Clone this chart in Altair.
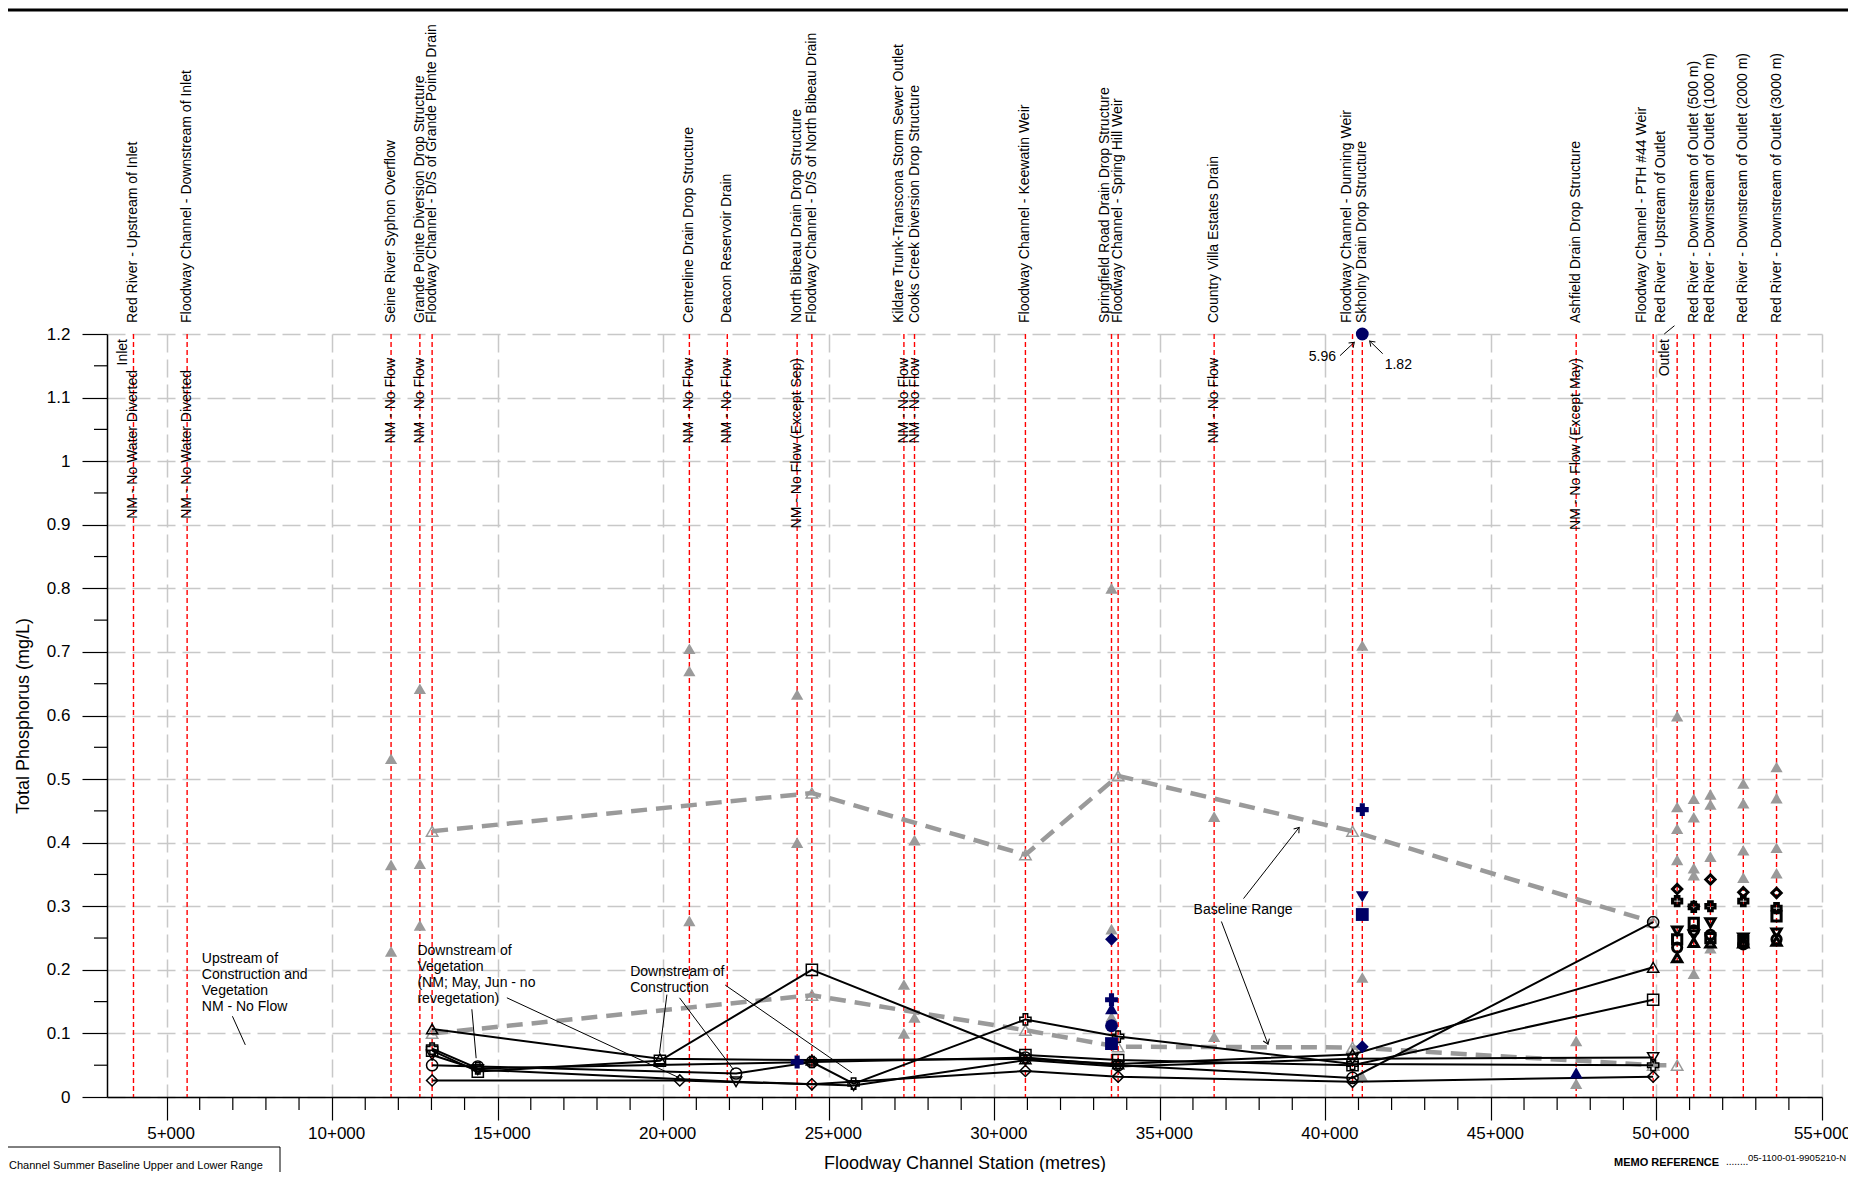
import altair as alt
import pandas as pd

W, H = 1715, 763
X_DOMAIN = [3200, 55000]
Y_DOMAIN = [0, 1.2]
FONT = "Liberation Sans"

# ---------------- data ----------------
SITE_NAMES = [
    "Red River - Upstream of Inlet",
    "Floodway Channel - Downstream of Inlet",
    "Seine River Syphon Overflow",
    "Grande Pointe Diversion Drop Structure",
    "Floodway Channel - D/S of Grande Pointe Drain",
    "Centreline Drain Drop Structure",
    "Deacon Reservoir Drain",
    "North Bibeau Drain Drop Structure",
    "Floodway Channel - D/S of North Bibeau Drain",
    "Kildare Trunk-Transcona Storm Sewer Outlet",
    "Cooks Creek Diversion Drop Structure",
    "Floodway Channel - Keewatin Weir",
    "Springfield Road Drain Drop Structure",
    "Floodway Channel - Spring Hill Weir",
    "Country Villa Estates Drain",
    "Floodway Channel - Dunning Weir",
    "Skholny Drain Drop Structure",
    "Ashfield Drain Drop Structure",
    "Floodway Channel - PTH #44 Weir",
    "Red River - Upstream of Outlet",
    "Red River - Downstream of Outlet (500 m)",
    "Red River - Downstream of Outlet (1000 m)",
    "Red River - Downstream of Outlet (2000 m)",
    "Red River - Downstream of Outlet (3000 m)",
]
SITE_STATIONS = [4000, 5620, 11780, 12650, 13020, 20790, 21935, 24045, 24490,
                 27270, 27590, 30940, 33540, 33740, 36640, 40820, 41115, 47575,
                 49900, 50625, 51127, 51630, 52623, 53627]

NM_STATIONS = [11780, 12650, 20790, 21935, 24045, 27270, 27590, 36640, 47575]
NM_NOTES = ["NM - No Flow", "NM - No Flow", "NM - No Flow", "NM - No Flow",
            "NM - No Flow (Except Sep)", "NM - No Flow", "NM - No Flow",
            "NM - No Flow", "NM - No Flow (Except May)"]
NM_INLET_STATIONS = [4000, 5620]
NM_INLET_NOTES = ["NM - No Water Diverted", "NM - No Water Diverted"]

# historical (grey filled triangles)
HIST_ST = [11780, 11780, 11780, 12650, 12650, 12650, 20790, 20790, 20790,
           24045, 24045, 27270, 27270, 27590, 27590, 33540, 33540, 33540,
           36640, 36640, 41115, 41115, 41115, 47575, 47575,
           50625, 50625, 50625, 50625, 51127, 51127, 51127, 51127, 51127,
           51630, 51630, 51630, 51630, 52623, 52623, 52623, 52623,
           53627, 53627, 53627, 53627]
HIST_TP = [0.532, 0.365, 0.229, 0.642, 0.367, 0.270, 0.705, 0.670, 0.277,
           0.633, 0.400, 0.177, 0.100, 0.404, 0.125, 0.800, 0.264, 0.126,
           0.441, 0.095, 0.710, 0.188, 0.032, 0.088, 0.021,
           0.599, 0.456, 0.422, 0.373, 0.469, 0.440, 0.360, 0.349, 0.194,
           0.476, 0.460, 0.378, 0.234, 0.493, 0.462, 0.388, 0.345,
           0.519, 0.470, 0.392, 0.352]

# baseline range (grey dashed)
UPPER_ST = [13020, 24490, 30940, 33740, 40820, 49900]
UPPER_TP = [0.418, 0.478, 0.381, 0.505, 0.418, 0.275]
LOWER_ST = [13020, 24490, 30940, 33740, 40820, 49900, 50625]
LOWER_TP = [0.100, 0.160, 0.105, 0.079, 0.078, 0.050, 0.050]

# floodway channel series (black lines, open markers)
TRI_UP_ST = [13020, 19900, 24490, 30940, 33740, 40820, 49900]
TRI_UP_TP = [0.107, 0.060, 0.058, 0.060, 0.052, 0.067, 0.204]
SQUARE_ST = [13020, 14400, 19900, 24490, 30940, 33740, 40820, 49900]
SQUARE_TP = [0.073, 0.040, 0.057, 0.200, 0.066, 0.058, 0.050, 0.153]
CIRCLE_ST = [13020, 14400, 22200, 24490, 30940, 33740, 40820, 49900]
CIRCLE_TP = [0.050, 0.048, 0.037, 0.055, 0.062, 0.050, 0.030, 0.275]
DIAMOND_ST = [13020, 20500, 24490, 30940, 33740, 40820, 49900]
DIAMOND_TP = [0.026, 0.026, 0.020, 0.041, 0.032, 0.024, 0.032]
CROSS_ST = [13020, 14400, 24490, 25750, 30940, 33740, 40820, 49900]
CROSS_TP = [0.076, 0.045, 0.055, 0.021, 0.122, 0.095, 0.052, 0.050]
TRI_DOWN_ST = [13020, 14400, 22200, 25750, 30940, 33740, 40820, 49900]
TRI_DOWN_TP = [0.066, 0.043, 0.024, 0.018, 0.058, 0.048, 0.060, 0.062]

# tributaries (navy filled markers)
NAVY_ST = [24045, 33540, 33540, 33540, 33540, 33540, 41115, 41115, 41115, 41115, 41115, 47575]
NAVY_TP = [0.055, 0.248, 0.153, 0.139, 0.112, 0.084, 1.2, 0.452, 0.315, 0.287, 0.079, 0.038]
NAVY_SHAPE = ["cross", "diamond", "cross", "triangle-up", "circle", "square",
              "circle", "cross", "triangle-down", "square", "diamond", "triangle-up"]

# Red River near outlet (bold black markers)
OUT_ST = [50625] * 6 + [51127] * 6 + [51630] * 6 + [52623] * 6 + [53627] * 6
OUT_SHAPE = ["diamond", "cross", "triangle-down", "square", "circle", "triangle-up"] * 5
OUT_TP = [0.327, 0.308, 0.261, 0.248, 0.235, 0.219,
          0.300, 0.299, 0.255, 0.274, 0.262, 0.243,
          0.342, 0.300, 0.274, 0.250, 0.255, 0.242,
          0.322, 0.308, 0.250, 0.245, 0.240, 0.242,
          0.321, 0.297, 0.258, 0.284, 0.248, 0.245]

# annotations
NOTE_TEXT = ["Upstream of\nConstruction and\nVegetation\nNM - No Flow",
             "Downstream of\nVegetation\n(NM; May, Jun - no\nrevegetation)",
             "Downstream of\nConstruction"]
NOTE_ST = [6063, 12577, 19003]
NOTE_TP = [0.228, 0.241, 0.207]

LEADER_ST = [6988, 14220, 15278, 20111, 20492, 21873, 37527, 36859, 40444, 41731, 50235]
LEADER_TP = [0.127, 0.138, 0.156, 0.161, 0.156, 0.176, 0.312, 0.276, 1.166, 1.169, 1.200]
LEADER_ST2 = [7378, 14350, 20492, 19888, 22124, 25701, 39208, 38267, 40873, 41338, 50544]
LEADER_TP2 = [0.082, 0.061, 0.030, 0.069, 0.043, 0.038, 0.424, 0.083, 1.187, 1.189, 1.213]

ARROW_ST = [39208, 38267, 40873, 41338]
ARROW_TP = [0.424, 0.083, 1.187, 1.189]
ARROW_ANGLE = [38, 159, 47, 314]

# ---------------- scales / axes ----------------
XS = alt.Scale(domain=X_DOMAIN, nice=False, zero=False)
YS = alt.Scale(domain=Y_DOMAIN, nice=False)

XAXIS = alt.Axis(
    values=list(range(5000, 55001, 5000)),
    labelExpr="(datum.value/1000) + '+000'",
    tickSize=23, tickColor="black", tickWidth=1.2,
    domainColor="black", domainWidth=1.5,
    grid=True, gridColor="#c8c8c8", gridDash=[18, 7], gridWidth=1.5,
    labelFont=FONT, labelFontSize=17, labelColor="black", labelPadding=5,
    labelOffset={"condition": {"test": "datum.value >= 55000", "value": 0}, "value": 4},
    labelFlush=False, labelOverlap=False,
    title="Floodway Channel Station (metres)", titleFont=FONT, titleFontSize=18,
    titleFontWeight="normal", titleColor="black", titlePadding=13,
)
YAXIS = alt.Axis(
    values=[round(i / 10, 1) for i in range(13)],
    format=".1~f",
    tickSize=25, tickColor="black", tickWidth=1.2,
    domainColor="black", domainWidth=1.5,
    grid=True, gridColor="#c8c8c8", gridDash=[18, 7], gridWidth=1.5,
    labelFont=FONT, labelFontSize=17, labelColor="black", labelPadding=12,
    labelFlush=False, labelOverlap=False,
    title="Total Phosphorus (mg/L)", titleFont=FONT, titleFontSize=18,
    titleFontWeight="normal", titleColor="black", titlePadding=14,
)
X = alt.X("station:Q", scale=XS, axis=XAXIS)
Y = alt.Y("tp:Q", scale=YS, axis=YAXIS)
X2 = alt.X2("station2:Q")
Y2 = alt.Y2("tp2:Q")

# ---------------- tables ----------------
sites = pd.DataFrame({"name": SITE_NAMES, "station": SITE_STATIONS,
                      "tp": [1.2] * len(SITE_STATIONS), "tp2": [0.0] * len(SITE_STATIONS)})
nm = pd.DataFrame({"note": NM_NOTES, "station": NM_STATIONS, "tp": [1.2] * len(NM_STATIONS)})
nm_in = pd.DataFrame({"note": NM_INLET_NOTES, "station": NM_INLET_STATIONS,
                      "tp": [1.2] * len(NM_INLET_STATIONS)})
hist = pd.DataFrame({"station": HIST_ST, "tp": HIST_TP})
base = pd.concat([
    pd.DataFrame({"band": "upper", "station": UPPER_ST, "tp": UPPER_TP}),
    pd.DataFrame({"band": "lower", "station": LOWER_ST, "tp": LOWER_TP}),
])
series_parts = []
for shp, st, tp in [("triangle-up", TRI_UP_ST, TRI_UP_TP), ("square", SQUARE_ST, SQUARE_TP),
                    ("circle", CIRCLE_ST, CIRCLE_TP), ("diamond", DIAMOND_ST, DIAMOND_TP),
                    ("cross", CROSS_ST, CROSS_TP), ("triangle-down", TRI_DOWN_ST, TRI_DOWN_TP)]:
    series_parts.append(pd.DataFrame({"shape": shp, "station": st, "tp": tp}))
chan = pd.concat(series_parts)
navy = pd.DataFrame({"station": NAVY_ST, "tp": NAVY_TP, "shape": NAVY_SHAPE})
outlet = pd.DataFrame({"station": OUT_ST, "tp": OUT_TP, "shape": OUT_SHAPE})
notes = pd.DataFrame({"text": NOTE_TEXT, "station": NOTE_ST, "tp": NOTE_TP})
leaders = pd.DataFrame({"station": LEADER_ST, "tp": LEADER_TP,
                        "station2": LEADER_ST2, "tp2": LEADER_TP2})
arrows = pd.DataFrame({"station": ARROW_ST, "tp": ARROW_TP, "ang": ARROW_ANGLE})
minor_x = pd.DataFrame({"station": [s for s in range(6000, 55000, 1000) if s % 5000]})
minor_y = pd.DataFrame({"tp": [round(0.05 + 0.1 * i, 2) for i in range(12)]})
one = pd.DataFrame({"k": [0]})

layers = []
# red dashed site lines (carry axes)
layers.append(alt.Chart(sites).mark_rule(color="#ff0000", strokeDash=[5, 3], strokeWidth=1.4)
              .encode(x=X, y=Y, y2=Y2))
# minor ticks
layers.append(alt.Chart(minor_x).mark_rule(color="black", strokeWidth=1.2)
              .encode(x=X, y=alt.value(H), y2=alt.value(H + 13)))
layers.append(alt.Chart(minor_y).mark_rule(color="black", strokeWidth=1.2)
              .encode(y=Y, x=alt.value(0), x2=alt.value(-13)))
# historical grey triangles
layers.append(alt.Chart(hist).mark_point(shape="triangle-up", filled=True, color="#9a9a9a",
                                         size=150, opacity=1).encode(x=X, y=Y))
# baseline range
layers.append(alt.Chart(base).mark_line(color="#9a9a9a", strokeWidth=4.5, strokeDash=[16, 9])
              .encode(x=X, y=Y, detail="band:N", order="station:Q"))
layers.append(alt.Chart(base).mark_point(shape="triangle-up", filled=False, color="#9a9a9a",
                                         strokeWidth=1.5, size=130, opacity=1).encode(x=X, y=Y))
# channel series
layers.append(alt.Chart(chan).mark_line(color="black", strokeWidth=2)
              .encode(x=X, y=Y, detail="shape:N", order="station:Q"))
layers.append(alt.Chart(chan).mark_point(filled=False, color="black", strokeWidth=1.5,
                                         size=125, opacity=1)
              .encode(x=X, y=Y, shape=alt.Shape("shape:N", scale=None)))
# tributaries
layers.append(alt.Chart(navy).mark_point(filled=True, color="#000066", size=165, opacity=1)
              .encode(x=X, y=Y, shape=alt.Shape("shape:N", scale=None)))
# red river near outlet
layers.append(alt.Chart(outlet).mark_point(filled=False, color="black", strokeWidth=3,
                                           size=85, opacity=1)
              .encode(x=X, y=Y, shape=alt.Shape("shape:N", scale=None)))

# site labels
NUDGE = {"Floodway Channel - Dunning Weir": -6, "Kildare Trunk-Transcona Storm Sewer Outlet": -5,
         "Springfield Road Drain Drop Structure": -7, "Floodway Channel - PTH #44 Weir": -11,
         "Red River - Upstream of Outlet": -16}
plain = [n for n in SITE_NAMES if n not in NUDGE]
layers.append(alt.Chart(sites).transform_filter(alt.FieldOneOfPredicate(field="name", oneOf=plain))
              .mark_text(angle=270, align="left", baseline="middle", dx=11, fontSize=14,
                         font=FONT, color="black")
              .encode(x=X, y=Y, text="name:N"))
for nm_name, off in NUDGE.items():
    layers.append(alt.Chart(sites).transform_filter(alt.FieldEqualPredicate(field="name", equal=nm_name))
                  .mark_text(angle=270, align="left", baseline="middle", dx=11, dy=off,
                             fontSize=14, font=FONT, color="black")
                  .encode(x=X, y=Y, text="name:N"))
# NM notes
layers.append(alt.Chart(nm).mark_text(angle=270, align="right", baseline="middle", dx=-24,
                                      fontSize=14, font=FONT, color="black")
              .encode(x=X, y=Y, text="note:N"))
layers.append(alt.Chart(nm_in).mark_text(angle=270, align="right", baseline="middle", dx=-36,
                                         fontSize=14, font=FONT, color="black")
              .encode(x=X, y=Y, text="note:N"))
# Inlet / Outlet
io = pd.DataFrame({"t": ["Inlet", "Outlet"], "station": [3683, 50266], "tp": [1.2, 1.2]})
layers.append(alt.Chart(io).mark_text(angle=270, align="right", baseline="middle", dx=-5,
                                      fontSize=14, font=FONT, color="black")
              .encode(x=X, y=Y, text="t:N"))
# annotation notes
layers.append(alt.Chart(notes).mark_text(align="left", baseline="top", lineBreak="\n",
                                         lineHeight=16, fontSize=14, font=FONT, color="black")
              .encode(x=X, y=Y, text="text:N"))
br = pd.DataFrame({"t": ["Baseline Range"], "station": [37513], "tp": [0.294]})
layers.append(alt.Chart(br).mark_text(align="center", baseline="middle", fontSize=14,
                                      font=FONT, color="black").encode(x=X, y=Y, text="t:N"))
n1 = pd.DataFrame({"t": ["5.96"], "station": [40320], "tp": [1.164]})
layers.append(alt.Chart(n1).mark_text(align="right", baseline="middle", fontSize=14,
                                      font=FONT, color="black").encode(x=X, y=Y, text="t:N"))
n2 = pd.DataFrame({"t": ["1.82"], "station": [41791], "tp": [1.152]})
layers.append(alt.Chart(n2).mark_text(align="left", baseline="middle", fontSize=14,
                                      font=FONT, color="black").encode(x=X, y=Y, text="t:N"))
layers.append(alt.Chart(leaders).mark_rule(color="black", strokeWidth=1)
              .encode(x=X, y=Y, x2=X2, y2=Y2))
layers.append(alt.Chart(arrows).mark_point(shape="M-0.7,1L0,0L0.7,1", filled=False,
                                           color="black", strokeWidth=1, size=90, opacity=1)
              .encode(x=X, y=Y, angle=alt.Angle("ang:Q", scale=None)))

# page decorations: top frame line, bottom title-block fragments
layers.append(alt.Chart(one).mark_rule(color="black", strokeWidth=3)
              .encode(x=alt.value(-99), x2=alt.value(W + 26), y=alt.value(-324)))
layers.append(alt.Chart(one).mark_rect(fill=None, stroke="black", strokeWidth=1)
              .encode(x=alt.value(-110), x2=alt.value(173), y=alt.value(813), y2=alt.value(900)))
legend_txt = pd.DataFrame({"t": ["Channel Summer Baseline Upper and Lower Range",
                                 "Channel Lower Range Extrapolated from D/S of"],
                           "yy": [832, 846], "xx": [-98, -98]})
layers.append(alt.Chart(legend_txt).mark_text(align="left", baseline="middle", fontSize=11,
                                              font=FONT, color="black")
              .encode(x=alt.X("xx:Q", scale=None), y=alt.Y("yy:Q", scale=None), text="t:N"))
memo = pd.DataFrame({"t": ["MEMO REFERENCE"]})
layers.append(alt.Chart(memo).mark_text(align="left", baseline="middle", fontSize=11,
                                        fontWeight="bold", font=FONT, color="black")
              .encode(x=alt.value(1507), y=alt.value(829), text="t:N"))
memo_dots = pd.DataFrame({"t": ["........"]})
layers.append(alt.Chart(memo_dots).mark_text(align="left", baseline="middle", fontSize=10,
                                             font=FONT, color="black")
              .encode(x=alt.value(1619), y=alt.value(828), text="t:N"))
memo2 = pd.DataFrame({"t": ["05-1100-01-9905210-N"]})
layers.append(alt.Chart(memo2).mark_text(align="left", baseline="middle", fontSize=9.5,
                                         font=FONT, color="black")
              .encode(x=alt.value(1641), y=alt.value(824), text="t:N"))

chart = alt.layer(*layers).properties(
    width=W, height=H,
    autosize=alt.AutoSizeParams(type="none"),
    padding={"left": 99, "top": 326, "right": 26, "bottom": 75},
    background="white",
).configure_view(stroke=None)

chart.save("out.html", embed_options={"renderer": "svg", "actions": False})
